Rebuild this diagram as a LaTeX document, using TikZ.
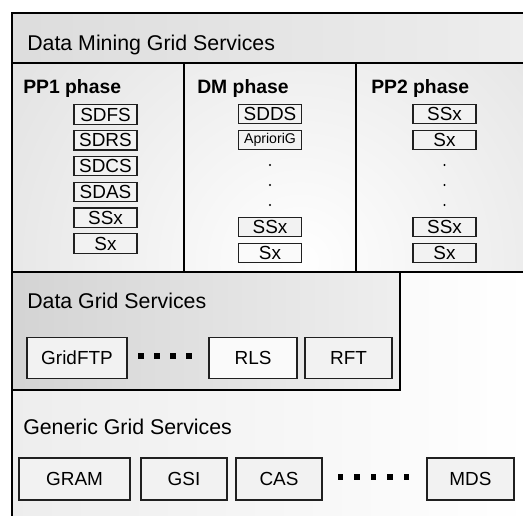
\documentclass[tikz,border=0pt]{standalone}
\usepackage{fontspec}
\setmainfont{Liberation Sans}
\begin{document}
\begin{tikzpicture}[x=0.75pt,y=-0.75pt,
  frameline/.style={line width=1.6pt, draw=black},
  item/.style={draw=gray!25!black, line width=0.85pt, fill=gray!10, inner sep=0pt,
    minimum width=47.25pt, minimum height=14.6pt, font=\fontsize{14.2}{16}\selectfont},
  smallitem/.style={item, font=\fontsize{10.6}{12}\selectfont},
  bigitem/.style={item, minimum height=31pt},
  title/.style={anchor=base west, inner sep=0pt, font=\fontsize{16}{18}\selectfont},
  phasetitle/.style={anchor=base west, inner sep=0pt, font=\fontsize{14.5}{17}\selectfont\bfseries},
  smalldot/.style={fill=black, inner sep=0pt, minimum size=1.8pt, circle},
  sqdot/.style={fill=black, inner sep=0pt, minimum size=3.8pt, rectangle}]
\useasboundingbox (0,0) rectangle (523,515);
\clip (0,0) rectangle (523,515);
\fill[white] (0,0) rectangle (523,515);
% header band
\shade[left color=gray!27, right color=gray!14] (12,13) rectangle (530,63);
% phase row
\begin{scope}
  \clip (12,63) rectangle (530,272);
  \shade[inner color=white, outer color=gray!42] (300,262) circle (660);
\end{scope}
% generic region
\shade[left color=gray!14, right color=white] (12,272) rectangle (530,530);
% data grid box
\shade[left color=gray!34, right color=gray!13] (12,272) rectangle (400,390);
% lines
\draw[frameline] (12,530) -- (12,13) -- (530,13);
\draw[frameline] (12,63) -- (530,63);
\draw[frameline] (12,272) -- (530,272);
\draw[frameline] (184,63) -- (184,272);
\draw[frameline] (356,63) -- (356,272);
\draw[frameline] (12,390) -- (400,390) -- (400,272);
% titles
\node[title] (tdm) at (27,50) {Data Mining Grid Services};
\node[phasetitle] (tpp1) at (23,93) {PP1 phase};
\node[phasetitle] (tdmp) at (197,93) {DM phase};
\node[phasetitle] (tpp2) at (371,93) {PP2 phase};
\node[title] (tdg) at (27,308) {Data Grid Services};
\node[title] (tgg) at (23,434) {Generic Grid Services};
% PP1 items
\node[item] (sdfs) at (105.5,114.5) {SDFS};
\node[item] (sdrs) at (105.5,140.3) {SDRS};
\node[item] (sdcs) at (105.5,166.1) {SDCS};
\node[item] (sdas) at (105.5,191.9) {SDAS};
\node[item] (ssx1) at (105.5,217.7) {SSx};
\node[item] (sx1) at (105.5,243.5) {Sx};
% DM items
\node[item] (sdds) at (270,114) {SDDS};
\node[smallitem] (apr) at (270,140) {AprioriG};
\node[smalldot] (dmd1) at (270,165) {};
\node[smalldot] (dmd2) at (270,185) {};
\node[smalldot] (dmd3) at (270,205) {};
\node[item] (ssx2) at (270,227) {SSx};
\node[item, fill=gray!4] (sx2) at (270,253) {Sx};
% PP2 items
\node[item] (ssx3) at (444.5,114) {SSx};
\node[item] (sx3) at (444.5,140) {Sx};
\node[smalldot] (ppd1) at (444.5,165) {};
\node[smalldot] (ppd2) at (444.5,185) {};
\node[smalldot] (ppd3) at (444.5,205) {};
\node[item] (ssx4) at (444.5,227) {SSx};
\node[item] (sx4) at (444.5,253) {Sx};
% Data grid items
\node[bigitem, minimum width=75pt] (gridftp) at (77,358) {GridFTP};
\foreach \i/\x in {1/141,2/157,3/173,4/189} \node[sqdot] (dgd\i) at (\x,356) {};
\node[bigitem, minimum width=66pt, fill=gray!4] (rls) at (253,358) {RLS};
\node[bigitem, minimum width=65.25pt] (rft) at (348.5,358) {RFT};
% Generic items
\node[bigitem, minimum width=83.25pt, minimum height=31.5pt] (gram) at (74.5,479) {GRAM};
\node[bigitem, minimum width=64.5pt, minimum height=31.5pt] (gsi) at (184,479) {GSI};
\node[bigitem, minimum width=64.5pt, minimum height=31.5pt] (cas) at (279,479) {CAS};
\foreach \i/\x in {1/340.5,2/357,3/373.5,4/390,5/406.5} \node[sqdot] (ggd\i) at (\x,477) {};
\node[bigitem, minimum width=65.25pt, minimum height=31.5pt] (mds) at (470.5,479) {MDS};
\end{tikzpicture}
\end{document}
